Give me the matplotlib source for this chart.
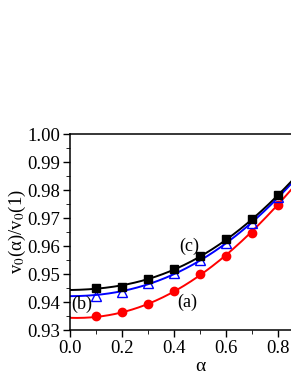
import matplotlib.pyplot as plt
import numpy as np

plt.rcParams['font.family'] = ['Liberation Serif', 'DejaVu Serif']
plt.rcParams['mathtext.fontset'] = 'stix'

# measured points
alpha_pts = [0.1, 0.2, 0.3, 0.4, 0.5, 0.6, 0.7, 0.8]
v_c = [0.9450, 0.9455, 0.9481, 0.9519, 0.9565, 0.9624, 0.9696, 0.9782]
v_b = [0.9420, 0.9435, 0.9467, 0.9503, 0.9551, 0.9610, 0.9681, 0.9776]
v_a = [0.9349, 0.9365, 0.9393, 0.9440, 0.9499, 0.9566, 0.9648, 0.9746]

# fitted curves, read at these alphas
alpha_fit = [0.0, 0.1, 0.2, 0.3, 0.4, 0.5, 0.6, 0.7, 0.8, 0.85, 0.9]
fit_c = [0.9443, 0.9447, 0.9460, 0.9482, 0.9516, 0.9562, 0.9622, 0.9695, 0.9782, 0.9830, 0.9880]
fit_b = [0.9421, 0.9425, 0.9439, 0.9463, 0.9500, 0.9548, 0.9610, 0.9684, 0.9773, 0.9822, 0.9873]
fit_a = [0.9343, 0.9348, 0.9363, 0.9392, 0.9437, 0.9497, 0.9568, 0.9652, 0.9748, 0.9800, 0.9855]

fig = plt.figure(figsize=(2.91, 3.76), dpi=100)
ax = fig.add_axes([0.2405, 0.1223, 0.8935, 0.5213])

xs = np.linspace(0, 0.9, 200)
for fit, col in [(fit_a, 'red'), (fit_b, 'blue'), (fit_c, 'black')]:
    p = np.polyfit(alpha_fit, fit, 4)
    ax.plot(xs, np.polyval(p, xs), color=col, lw=1.4, zorder=2)

ax.plot(alpha_pts, v_a, 'o', color='red', ms=6, zorder=3)
ax.plot(alpha_pts, v_b, '^', mfc='none', mec='blue', mew=1.0, ms=7, zorder=3)
ax.plot(alpha_pts, v_c, 's', color='black', ms=5.5, zorder=4)

ax.text(0.46, 0.9600, '(c)', fontsize=13, ha='center', va='center')
ax.text(0.045, 0.9390, '(b)', fontsize=13, ha='center', va='center')
ax.text(0.45, 0.9400, '(a)', fontsize=13, ha='center', va='center')

ax.set_xlim(0, 1.0)
ax.set_ylim(0.93, 1.0)
ax.set_xticks([0.0, 0.2, 0.4, 0.6, 0.8, 1.0])
ax.set_yticks(np.arange(0.93, 1.001, 0.01))
ax.set_xticks(np.arange(0.1, 1.0, 0.2), minor=True)
ax.set_yticks(np.arange(0.935, 1.0, 0.01), minor=True)
ax.xaxis.set_major_formatter(plt.FormatStrFormatter('%.1f'))
ax.yaxis.set_major_formatter(plt.FormatStrFormatter('%.2f'))
ax.tick_params(direction='out', labelsize=13.5, length=5, width=1, pad=2)
ax.tick_params(which='minor', direction='out', length=3)
for s in ax.spines.values():
    s.set_linewidth(1.1)

ax.set_xlabel('α', fontsize=14)
ax.xaxis.set_label_coords(0.5, -0.145)
ax.set_ylabel('v$_0$(α)/v$_0$(1)', fontsize=13.5)
ax.yaxis.set_label_coords(-0.16, 0.5)

fig.savefig('out.png', dpi=100)
